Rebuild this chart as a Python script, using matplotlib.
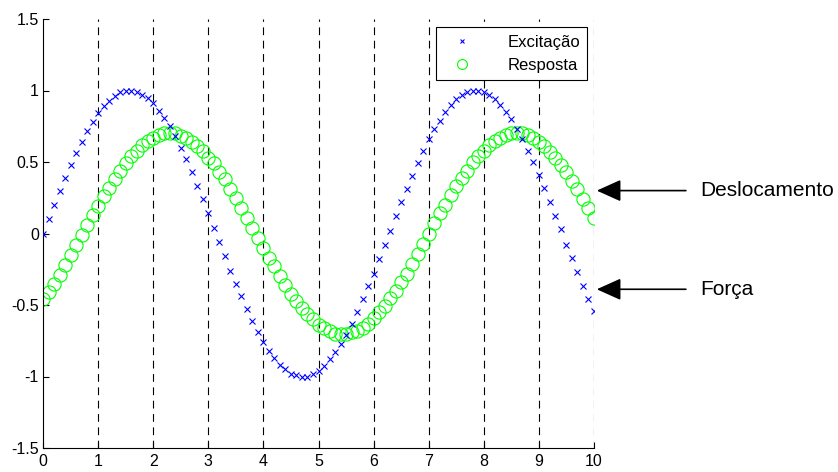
import numpy as np
import matplotlib
matplotlib.use("Agg")
import matplotlib.pyplot as plt

plt.rcParams['font.family'] = ['Liberation Sans', 'DejaVu Sans']

# tempo amostrado de 0 a 10 com passo 0.1
t = np.arange(101) / 10.0

excitacao = [0.00, 0.10, 0.20, 0.30, 0.39, 0.48, 0.56, 0.64, 0.72, 0.78,
             0.84, 0.89, 0.93, 0.96, 0.99, 1.00, 1.00, 0.99, 0.97, 0.95,
             0.91, 0.86, 0.81, 0.75, 0.68, 0.60, 0.52, 0.43, 0.33, 0.24,
             0.14, 0.04, -0.06, -0.16, -0.26, -0.35, -0.44, -0.53, -0.61, -0.69,
             -0.76, -0.82, -0.87, -0.92, -0.95, -0.98, -0.99, -1.00, -1.00, -0.98,
             -0.96, -0.93, -0.88, -0.83, -0.77, -0.71, -0.63, -0.55, -0.46, -0.37,
             -0.28, -0.18, -0.08, 0.02, 0.12, 0.22, 0.31, 0.40, 0.49, 0.58,
             0.66, 0.73, 0.79, 0.85, 0.90, 0.94, 0.97, 0.99, 1.00, 1.00,
             0.99, 0.97, 0.94, 0.90, 0.85, 0.80, 0.73, 0.66, 0.58, 0.50,
             0.41, 0.32, 0.22, 0.12, 0.03, -0.08, -0.17, -0.27, -0.37, -0.46,
             -0.54]

resposta = [-0.46, -0.41, -0.35, -0.29, -0.22, -0.15, -0.08, -0.01, 0.06, 0.13,
            0.19, 0.26, 0.32, 0.38, 0.44, 0.49, 0.54, 0.58, 0.62, 0.65,
            0.67, 0.69, 0.70, 0.70, 0.70, 0.68, 0.67, 0.64, 0.61, 0.58,
            0.53, 0.49, 0.43, 0.38, 0.31, 0.25, 0.18, 0.11, 0.04, -0.03,
            -0.10, -0.17, -0.23, -0.30, -0.36, -0.42, -0.47, -0.52, -0.56, -0.60,
            -0.64, -0.66, -0.68, -0.70, -0.70, -0.70, -0.69, -0.68, -0.66, -0.63,
            -0.59, -0.55, -0.51, -0.45, -0.40, -0.34, -0.28, -0.21, -0.14, -0.07,
            0.00, 0.07, 0.14, 0.20, 0.27, 0.33, 0.39, 0.44, 0.50, 0.54,
            0.58, 0.62, 0.65, 0.67, 0.69, 0.70, 0.70, 0.70, 0.69, 0.67,
            0.64, 0.61, 0.57, 0.53, 0.48, 0.43, 0.37, 0.31, 0.24, 0.18,
            0.11]

linhas_v = [1, 2, 3, 4, 5, 6, 7, 8, 9, 10]
xticks = list(range(11))
yticks = [-1.5, -1, -0.5, 0, 0.5, 1, 1.5]
ytick_labels = ['-1.5', '-1', '-0.5', '0', '0.5', '1', '1.5']

fig = plt.figure(figsize=(8.38, 4.72), dpi=100)
ax = fig.add_axes([43 / 838, 24 / 472, 551 / 838, 429 / 472])

for xv in linhas_v:
    ax.axvline(xv, color='k', linestyle=(0, (7, 5)), linewidth=0.8, zorder=1)

ax.plot(t, excitacao, 'x', color=(0, 0, 1), markersize=4.5, markeredgewidth=0.8,
        label='Excitação', zorder=3)
ax.plot(t, resposta, 'o', markerfacecolor='none', markeredgecolor=(0, 1, 0),
        markersize=9.5, markeredgewidth=0.8, label='Resposta', zorder=2)

ax.set_xlim(0, 10)
ax.set_ylim(-1.5, 1.5)
ax.set_xticks(xticks)
ax.set_yticks(yticks)
ax.set_yticklabels(ytick_labels)
ax.tick_params(direction='in', length=4, labelsize=11.5, width=0.8)
ax.tick_params(axis='x', pad=4)
ax.tick_params(axis='y', pad=3)
ax.spines['top'].set_visible(False)
ax.spines['right'].set_visible(False)

leg = ax.legend(loc='upper right', bbox_to_anchor=(0.988, 0.981), fontsize=12,
                frameon=True, fancybox=False, edgecolor='k', framealpha=1,
                borderpad=0.45, handletextpad=1.6, labelspacing=0.5,
                handlelength=2.2, markerscale=0.75, borderaxespad=0)
leg.get_frame().set_linewidth(0.8)

ax.annotate('Deslocamento', xy=(10.05, 0.30), xytext=(11.92, 0.30),
            ha='left', va='center', fontsize=15, annotation_clip=False,
            arrowprops=dict(arrowstyle='-|>,head_length=1.0,head_width=0.45',
                            color='k', lw=1.2, shrinkA=8, shrinkB=0))
ax.annotate('Força', xy=(10.05, -0.39), xytext=(11.92, -0.39),
            ha='left', va='center', fontsize=15, annotation_clip=False,
            arrowprops=dict(arrowstyle='-|>,head_length=1.0,head_width=0.45',
                            color='k', lw=1.2, shrinkA=8, shrinkB=0))

fig.savefig('out.png', dpi=100)
